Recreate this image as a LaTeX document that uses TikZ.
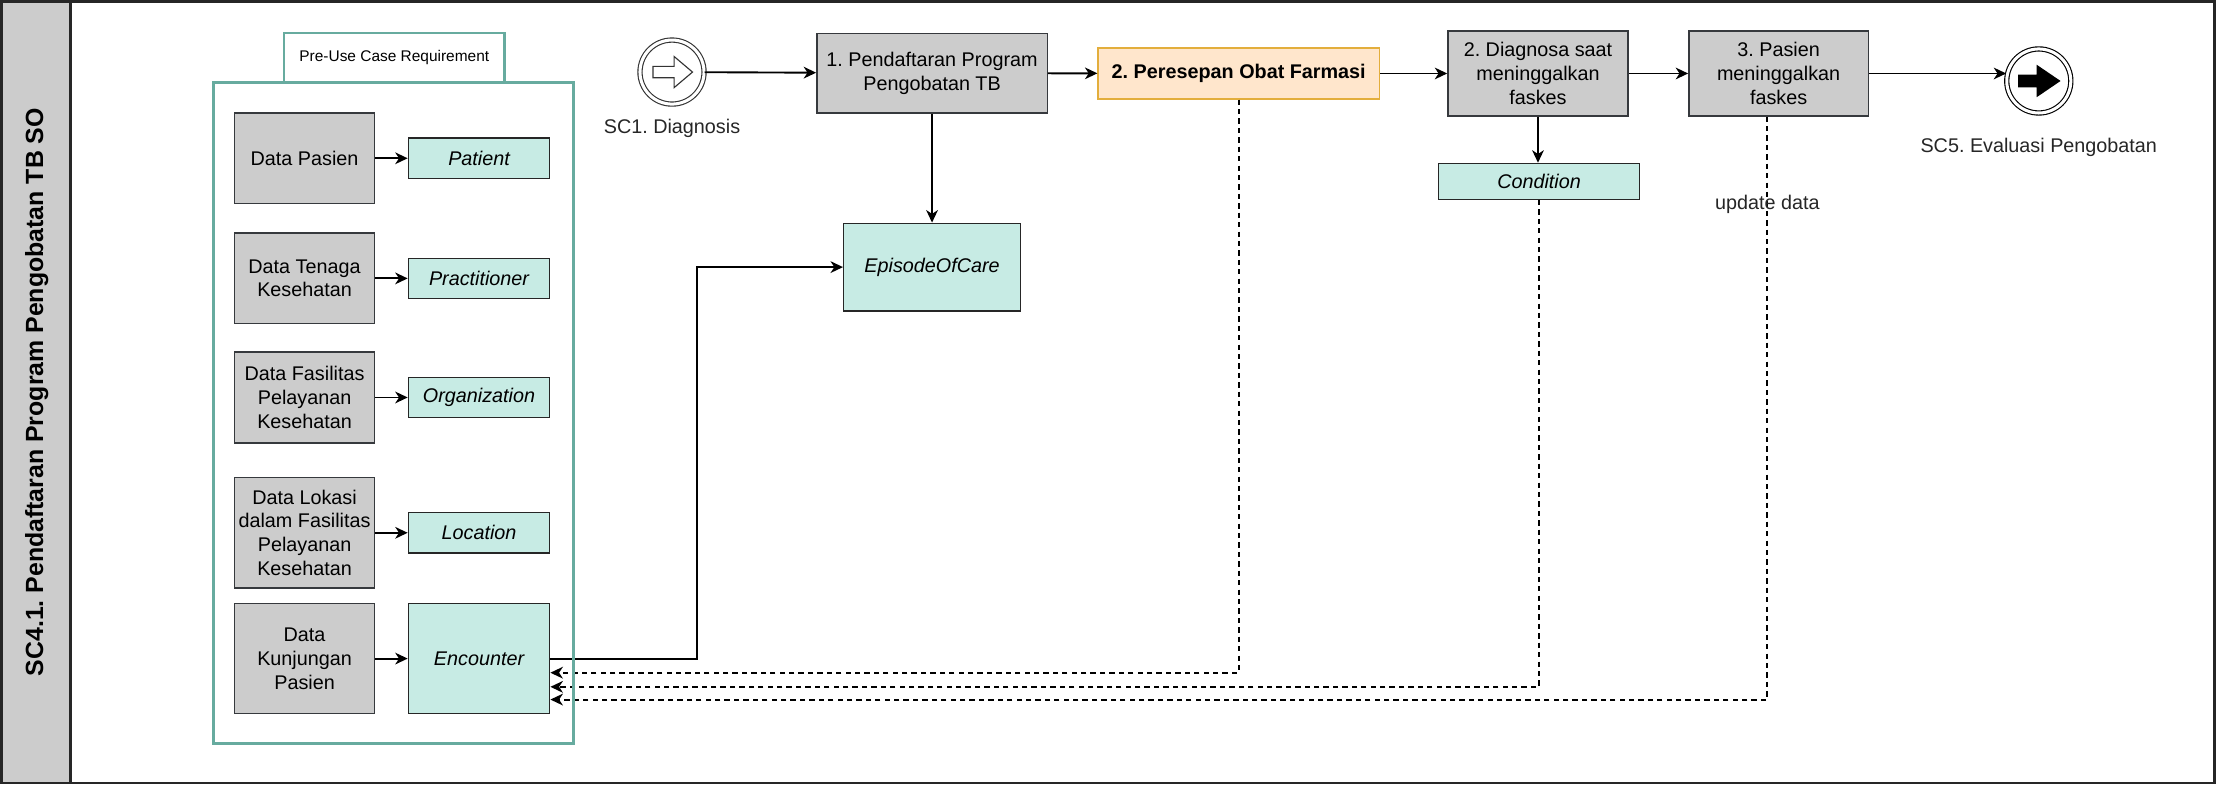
\documentclass[tikz,border=0pt]{standalone}
\usepackage{fontspec}
\setmainfont{Liberation Sans}
\usepackage{tikz}
\usetikzlibrary{arrows.meta,positioning}
\frenchspacing

\definecolor{lanegray}{HTML}{CCCCCC}
\definecolor{taskgray}{HTML}{CCCCCC}
\definecolor{taskline}{HTML}{36393D}
\definecolor{resfill}{HTML}{C7EBE4}
\definecolor{resline}{HTML}{67AB9F}
\definecolor{rxfill}{HTML}{FFE6CC}
\definecolor{rxline}{HTML}{E3AE3C}

\begin{document}
\begin{tikzpicture}[x=0.75pt, y=-0.75pt, node distance=92.6pt, on grid,
   >={Stealth[length=6.6pt,width=6.2pt,inset=2pt]},
   font=\fontsize{10.5}{12.6}\selectfont,
   task/.style={rectangle, draw=taskline, fill=taskgray, line width=0.75pt, align=center, inner sep=0pt},
   res/.style={rectangle, draw=black!85, fill=resfill, line width=0.75pt, align=center, inner sep=0pt,
      font=\fontsize{10.5}{12.6}\selectfont\itshape},
   event/.style={circle, draw=black!80, fill=white, line width=0.6pt, double, double distance=1.6pt,
      minimum size=34pt, inner sep=0pt},
   flow/.style={line width=1pt},
   link/.style={line width=1pt, dash pattern=on 2.8pt off 2.2pt}]

   \useasboundingbox (0,0) rectangle (1568,555);

   % lane
   \fill[lanegray] (1,1) rectangle (50,554);
   \draw[line width=1.5pt, black!85] (1,1) rectangle (1567,554);
   \draw[line width=1.5pt, black!85] (50,1) -- (50,554);
   \node[rotate=90, font=\fontsize{13.2}{15}\selectfont\bfseries] (lane) at (26,277.5)
      {SC4.1. Pendaftaran Program Pengobatan TB SO};

   \node[task, minimum width=74.25pt, minimum height=48pt]   (datapasien)    at (215.5,112)    {Data Pasien};
   \node[task, minimum width=74.25pt, minimum height=48pt]   (datatenaga)    at (215.5,197)    {Data Tenaga\\Kesehatan};
   \node[task, minimum width=74.25pt, minimum height=48.4pt] (datafaskes)    at (215.5,281.25) {Data Fasilitas\\Pelayanan\\Kesehatan};
   \node[task, minimum width=74.25pt, minimum height=58.5pt] (datalokasi)    at (215.5,377)    {Data Lokasi\\dalam Fasilitas\\Pelayanan\\Kesehatan};
   \node[task, minimum width=74.25pt, minimum height=58.5pt] (datakunjungan) at (215.5,466)    {Data\\Kunjungan\\Pasien};

   \node[res, minimum width=75pt, minimum height=21.4pt] (patient)      [right=of datapasien]    {Patient};
   \node[res, minimum width=75pt, minimum height=21.4pt] (practitioner) [right=of datatenaga]    {Practitioner};
   \node[res, minimum width=75pt, minimum height=21.4pt] (organization) [right=of datafaskes]    {Organization};
   \node[res, minimum width=75pt, minimum height=21.4pt] (location)     [right=of datalokasi]    {Location};
   \node[res, minimum width=75pt, minimum height=58.5pt] (encounter)    [right=of datakunjungan] {Encounter};

   % main flow
   \node[event] (start) at (475.5,51) {};
   \node[text=black!85] (sc1) [below=30pt of start] {SC1. Diagnosis};
   \node[task, minimum width=122.25pt, minimum height=42.4pt] (daftar) at (659.5,51.8) {1. Pendaftaran Program\\Pengobatan TB};
   \node[res, minimum width=93.75pt, minimum height=46.5pt] (episode) at (659.5,189) {EpisodeOfCare};
   \node[task, draw=rxline, fill=rxfill, minimum width=149.25pt, minimum height=27pt,
      font=\fontsize{10.5}{12.6}\selectfont\bfseries] (resep) at (876.5,52) {2. Peresepan Obat Farmasi};
   \node[task, minimum width=95.6pt, minimum height=45pt] (diagnosa) at (1088.25,52) {2. Diagnosa saat\\meninggalkan\\faskes};
   \node[res, minimum width=106.5pt, minimum height=19pt] (condition) at (1089,128.3) {Condition};
   \node[task, minimum width=95.25pt, minimum height=45pt] (keluar) at (1258.5,52) {3. Pasien\\meninggalkan\\faskes};
   \node[event, draw=black] (finish) at (1442.6,57.3) {};
   \node[text=black!85] (sc5) [below=35pt of finish] {SC5. Evaluasi Pengobatan};

   % event icons
   \draw[black!80, line width=0.6pt, fill=white] (start.center) ++(-13.5,-4) -- ++(15,0) -- ++(0,-7)
      -- ++(13,11) -- ++(-13,11) -- ++(0,-7) -- ++(-15,0) -- cycle;
   \fill[black] (finish.center) ++(-14.6,-4.5) -- ++(13.1,0) -- ++(0,-7)
      -- ++(16.9,11.5) -- ++(-16.9,11.5) -- ++(0,-7) -- ++(-13.1,0) -- cycle;

   \path[->, flow]
    (start)  edge (daftar)
    (daftar) edge (resep)
             edge (episode)
    (resep)  edge (diagnosa)
    (diagnosa) edge (keluar)
    (diagnosa.south) edge (diagnosa.south |- condition.north)
    (keluar.east) edge (keluar.east -| finish.west);

   \foreach \src/\dst in {datapasien/patient, datatenaga/practitioner, datafaskes/organization,
                          datalokasi/location, datakunjungan/encounter}
      \draw[->, flow] (\src) -- (\dst);

   \draw[->, flow] (encounter.east) -- ++(104,0) |- (episode.west);

   % update back to encounter
   \draw[->, link] (resep.south) |- ([yshift=-7.5pt]encounter.east);
   \draw[->, link] (condition.south) |- ([yshift=-15pt]encounter.east);
   \draw[->, link] ([xshift=-6pt]keluar.south) |- node[pos=.075, text=black!85] {update data}
      ([yshift=-21.75pt]encounter.east);

   % pre-use case requirement (frame on top)
   \node[draw=resline, line width=1.5pt, minimum width=191.25pt, minimum height=350.5pt] (prebox) at (278.5,292.3) {};
   \node[draw=resline, line width=1.5pt, fill=white, minimum width=117pt, minimum height=26.25pt,
      font=\fontsize{8.2}{9.5}\selectfont] (prereq) at (279,40.8) {Pre-Use Case Requirement};
\end{tikzpicture}
\end{document}
